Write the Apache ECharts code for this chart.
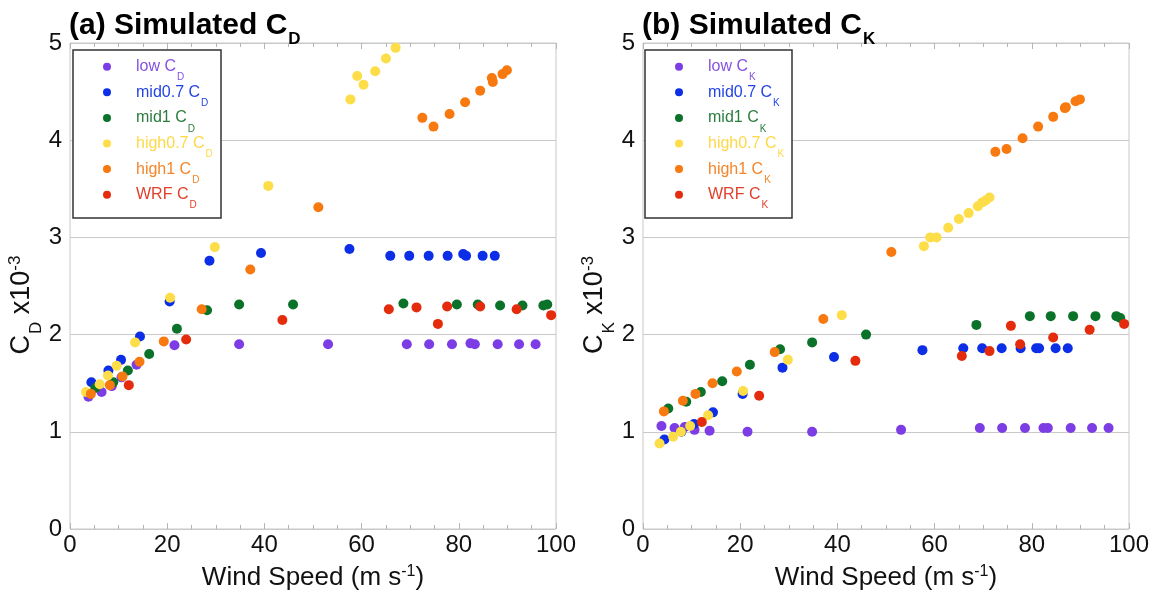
<!DOCTYPE html>
<html><head><meta charset="utf-8">
<script src="https://cdn.jsdelivr.net/npm/echarts@6/dist/echarts.min.js"></script>
<style>html,body{margin:0;padding:0;background:#fff}#c{width:1157px;height:597px}</style>
</head><body><div id="c"></div>
<script>
// ---- data (wind speed m/s, coefficients x10^-3) ----
const lowX   = [3.8, 6.5, 8.6, 10.6, 13.7, 21.5, 34.8, 53.1, 69.3, 73.9, 78.6, 82.4, 83.3, 88.0, 92.4, 95.8];
const lowCD  = [1.36, 1.41, 1.47, 1.56, 1.69, 1.89, 1.90, 1.90, 1.90, 1.90, 1.90, 1.91, 1.90, 1.90, 1.90, 1.90];
const lowCK  = [1.06, 1.04, 1.05, 1.02, 1.01, 1.00, 1.00, 1.02, 1.04, 1.04, 1.04, 1.04, 1.04, 1.04, 1.04, 1.04];

const mid07X  = [4.4, 7.9, 10.5, 14.4, 20.5, 28.7, 39.3, 57.5, 65.9, 69.8, 73.8, 77.7, 80.9, 81.5, 84.9, 87.4];
const mid07CD = [1.51, 1.63, 1.74, 1.98, 2.34, 2.76, 2.84, 2.88, 2.81, 2.81, 2.81, 2.81, 2.83, 2.81, 2.81, 2.81];
const mid07CK = [0.92, 1.00, 1.08, 1.20, 1.39, 1.66, 1.77, 1.84, 1.86, 1.86, 1.86, 1.86, 1.86, 1.86, 1.86, 1.86];

const mid1X  = [5.2, 8.9, 11.9, 16.3, 22.0, 28.2, 34.8, 45.9, 68.6, 79.6, 83.9, 88.5, 93.1, 97.4, 98.2];
const mid1CD = [1.45, 1.51, 1.63, 1.80, 2.06, 2.25, 2.31, 2.31, 2.32, 2.31, 2.31, 2.30, 2.30, 2.30, 2.31];
const mid1CK = [1.24, 1.31, 1.41, 1.52, 1.69, 1.85, 1.92, 2.00, 2.10, 2.19, 2.19, 2.19, 2.19, 2.19, 2.17];

const high07XD = [3.3, 6.1, 7.8, 9.6, 13.4, 20.6, 29.8, 40.8, 57.7, 59.1, 60.4, 62.8, 65.0, 67.0];
const high07CD = [1.41, 1.49, 1.58, 1.68, 1.92, 2.38, 2.90, 3.53, 4.42, 4.66, 4.57, 4.71, 4.84, 4.95];
const high07XK = [3.4, 6.2, 7.8, 9.7, 13.4, 20.6, 29.8, 40.9, 57.8, 59.1, 60.4, 62.8, 65.0, 67.0, 68.9, 69.8, 70.5, 71.3];
const high07CK = [0.88, 0.95, 1.00, 1.06, 1.17, 1.42, 1.74, 2.20, 2.91, 3.00, 3.00, 3.10, 3.19, 3.25, 3.32, 3.36, 3.38, 3.41];

const high1X  = [4.3, 8.2, 10.8, 14.3, 19.3, 27.1, 37.1, 51.1, 72.5, 74.8, 78.1, 81.3, 84.4, 86.8, 87.0, 89.0, 89.9];
const high1CD = [1.39, 1.48, 1.57, 1.72, 1.93, 2.26, 2.67, 3.31, 4.23, 4.14, 4.27, 4.39, 4.51, 4.64, 4.60, 4.68, 4.72];
const high1CK = [1.21, 1.32, 1.39, 1.50, 1.62, 1.82, 2.16, 2.85, 3.88, 3.91, 4.02, 4.14, 4.24, 4.33, 4.34, 4.40, 4.42];

const wrfX  = [12.1, 23.9, 43.7, 65.6, 71.3, 75.7, 77.6, 84.4, 91.9, 99.0];
const wrfCD = [1.48, 1.95, 2.15, 2.26, 2.28, 2.11, 2.29, 2.29, 2.26, 2.20];
const wrfCK = [1.10, 1.37, 1.73, 1.78, 1.83, 2.09, 1.90, 1.97, 2.05, 2.11];

const seriesLabels = ['low', 'mid0.7', 'mid1', 'high0.7', 'high1', 'WRF'];

// ---- styling ----
const FONT = '"Liberation Sans", Arial, sans-serif';
const COLORS = ['#7C3DE4', '#0B2EE6', '#0B7229', '#FDDD48', '#F7790F', '#E42B0C'];
const TXT = ['#8552E2', '#2443E4', '#2A7D3E', '#FDD948', '#F5852A', '#E2402A'];
const GRID_C = '#c9c9c9';

const pairsCD = [[lowX, lowCD], [mid07X, mid07CD], [mid1X, mid1CD], [high07XD, high07CD], [high1X, high1CD], [wrfX, wrfCD]];
const pairsCK = [[lowX, lowCK], [mid07X, mid07CK], [mid1X, mid1CK], [high07XK, high07CK], [high1X, high1CK], [wrfX, wrfCK]];

function zip(xs, ys) { return xs.map((x, i) => [x, ys[i]]); }

const gridL = {left: 70, top: 43, width: 486, height: 486};
const gridR = {left: 643, top: 43, width: 486, height: 486};

function xAxisDef(gridIndex, pos) {
  const bottom = pos === 'bottom';
  return {
    type: 'value', gridIndex, position: pos, min: 0, max: 100, interval: 20,
    axisLine: {show: false},
    axisTick: {show: true, inside: true, length: 6, lineStyle: {color: '#b5b5b5'}},
    minorTick: {show: true, splitNumber: 4, length: 4, lineStyle: {color: '#b5b5b5'}},
    splitLine: {show: false},
    axisLabel: {show: bottom, fontFamily: FONT, fontSize: 24, color: '#111', margin: 4},
    name: bottom ? '{m|Wind Speed (m s}{p|-1}{m|)}' : '',
    nameLocation: 'middle', nameGap: 35,
    nameTextStyle: {rich: {
      m: {fontFamily: FONT, fontSize: 26, color: '#111', verticalAlign: 'middle'},
      p: {fontFamily: FONT, fontSize: 16, color: '#111', verticalAlign: 'middle', padding: [0, 0, 11, 0]}
    }}
  };
}
function yAxisDef(gridIndex, sub) {
  return {
    type: 'value', gridIndex, min: 0, max: 5, interval: 1,
    axisLine: {show: false}, axisTick: {show: false},
    splitLine: {show: true, lineStyle: {color: GRID_C, width: 1}},
    axisLabel: {fontFamily: FONT, fontSize: 24, color: '#111', margin: 8},
    name: '{m|C}{s|' + sub + '}{m| x10}{p|-3}',
    nameLocation: 'middle', nameGap: 14,
    nameTextStyle: {padding: [0, 38, 0, 0], rich: {
      m: {fontFamily: FONT, fontSize: 27, color: '#111', verticalAlign: 'middle'},
      s: {fontFamily: FONT, fontSize: 17, color: '#111', verticalAlign: 'middle', padding: [29, 0, 0, 1]},
      p: {fontFamily: FONT, fontSize: 17, color: '#111', verticalAlign: 'middle', padding: [0, 0, 13, 0]}
    }}
  };
}

const series = [];
pairsCD.forEach((p, i) => series.push({
  name: seriesLabels[i] + ' CD', type: 'scatter', xAxisIndex: 0, yAxisIndex: 0,
  data: zip(p[0], p[1]), symbolSize: 10, itemStyle: {color: COLORS[i], opacity: 1}
}));
pairsCK.forEach((p, i) => series.push({
  name: seriesLabels[i] + ' CK', type: 'scatter', xAxisIndex: 2, yAxisIndex: 1,
  data: zip(p[0], p[1]), symbolSize: 10, itemStyle: {color: COLORS[i], opacity: 1}
}));

function legendRich() {
  const r = {};
  TXT.forEach((c, i) => {
    r['m' + i] = {fontFamily: FONT, fontSize: 16, color: c, lineHeight: 16, verticalAlign: 'top', padding: [0, 0, 16, 0]};
    r['s' + i] = {fontFamily: FONT, fontSize: 10, color: c, lineHeight: 10, verticalAlign: 'top', padding: [14, 0, 0, 1]};
  });
  return r;
}
function legendDef(left, suffix, sub) {
  return {
    orient: 'vertical', left, top: 58.7, padding: 0, z: 10,
    icon: 'circle', itemWidth: 48, itemHeight: 8, itemGap: -6.4,
    data: seriesLabels.map(s => s + ' ' + suffix),
    formatter: name => {
      const i = seriesLabels.indexOf(name.slice(0, name.lastIndexOf(' ')));
      return '{m' + i + '|' + seriesLabels[i] + ' C}{s' + i + '|' + sub + '}';
    },
    textStyle: {rich: legendRich()},
    selectedMode: false
  };
}

const titleRich = {
  m: {fontFamily: FONT, fontSize: 30, fontWeight: 'bold', color: '#000', verticalAlign: 'middle'},
  s: {fontFamily: FONT, fontSize: 17, fontWeight: 'bold', color: '#000', verticalAlign: 'middle', padding: [28, 0, 0, 1]}
};

const option = {
  backgroundColor: '#fff',
  animation: false,
  title: [
    {text: '{m|(a) Simulated C}{s|D}', left: 69, top: 3, padding: 0, textStyle: {rich: titleRich}},
    {text: '{m|(b) Simulated C}{s|K}', left: 642, top: 3, padding: 0, textStyle: {rich: titleRich}}
  ],
  grid: [
    Object.assign({show: true, borderColor: GRID_C, borderWidth: 1, containLabel: false}, gridL),
    Object.assign({show: true, borderColor: GRID_C, borderWidth: 1, containLabel: false}, gridR)
  ],
  xAxis: [xAxisDef(0, 'bottom'), xAxisDef(0, 'top'), xAxisDef(1, 'bottom'), xAxisDef(1, 'top')],
  yAxis: [yAxisDef(0, 'D'), yAxisDef(1, 'K')],
  legend: [legendDef(103, 'CD', 'D'), legendDef(675, 'CK', 'K')],
  graphic: [
    {type: 'rect', z: 5, shape: {x: 73, y: 50, width: 148, height: 168}, style: {fill: '#fff', stroke: '#333', lineWidth: 1.5}},
    {type: 'rect', z: 5, shape: {x: 645, y: 50, width: 147, height: 168}, style: {fill: '#fff', stroke: '#333', lineWidth: 1.5}}
  ],
  series
};
const chart = echarts.init(document.getElementById('c'));
chart.setOption(option);
</script></body></html>
